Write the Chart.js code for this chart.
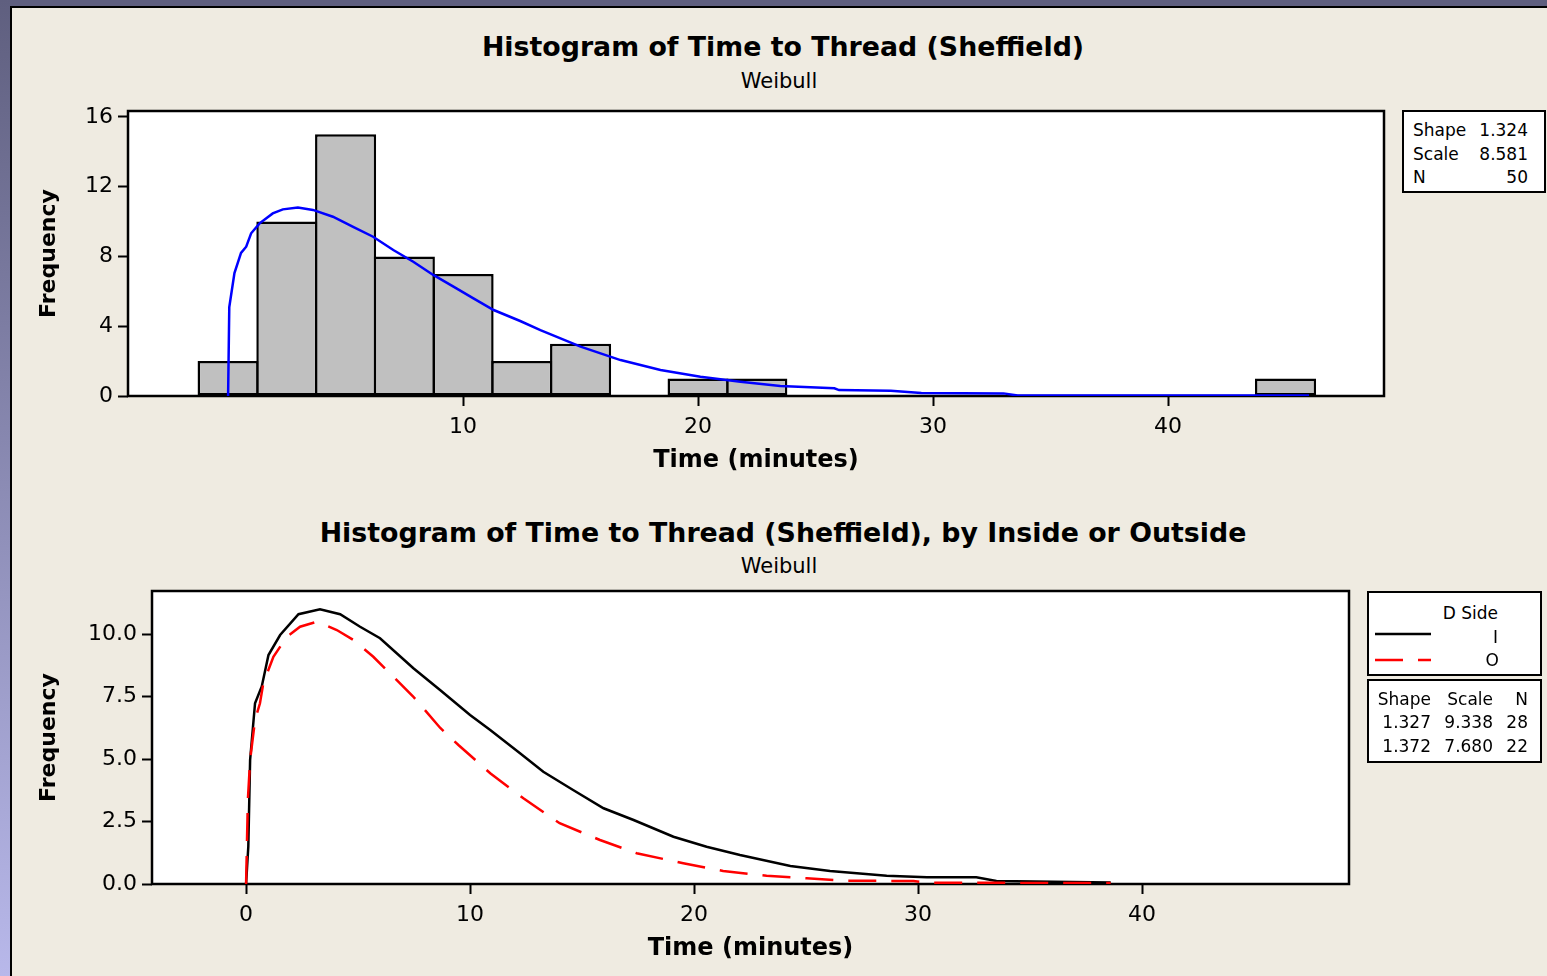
<!DOCTYPE html>
<html>
<head>
<meta charset="utf-8">
<title>Histogram of Time to Thread (Sheffield)</title>
<script src="https://cdn.jsdelivr.net/npm/chart.js@4.4.0/dist/chart.umd.min.js"></script>
<style>
  html, body { margin: 0; padding: 0; }
  body {
    width: 1547px; height: 976px; position: relative; overflow: hidden;
    background: #efebe1; color: #000;
    font-family: "DejaVu Sans", Verdana, sans-serif;
  }
  .frame-top { position: absolute; left: 0; top: 0; width: 1547px; height: 6px; background: #5f5f7f; }
  .frame-left { position: absolute; left: 0; top: 0; width: 10px; height: 976px; background: linear-gradient(#5f5f7f, #b8b8ea); }
  .edge-top { position: absolute; left: 10px; top: 6px; width: 1537px; height: 2px; background: #000; }
  .edge-left { position: absolute; left: 10px; top: 6px; width: 2px; height: 970px; background: #000; }
  canvas { position: absolute; left: 0; }
  .title { position: absolute; transform: translateX(-50%); white-space: nowrap; font-weight: bold; font-size: 26.8px; line-height: 30px; }
  .subtitle { position: absolute; transform: translateX(-50%); white-space: nowrap; font-size: 21px; line-height: 24px; }
  .box { position: absolute; background: #fff; border: 2px solid #000; box-sizing: border-box; }
  .lbl { position: absolute; white-space: nowrap; font-size: 17px; line-height: 20px; }
</style>
</head>
<body>
<div class="frame-top"></div>
<div class="frame-left"></div>
<div class="edge-top"></div>
<div class="edge-left"></div>

<div class="title" style="left:783px; top:32px;">Histogram of Time to Thread (Sheffield)</div>
<div class="subtitle" style="left:779px; top:69px;">Weibull</div>
<canvas id="histChart" width="1547" height="488" style="top:0;"></canvas>

<div class="title" style="left:783px; top:518px;">Histogram of Time to Thread (Sheffield), by Inside or Outside</div>
<div class="subtitle" style="left:779px; top:554px;">Weibull</div>
<canvas id="sideChart" width="1547" height="488" style="top:488px;"></canvas>

<div class="box" style="left:1402px; top:110px; width:144px; height:83px;"></div>
<div class="box" style="left:1367px; top:591px; width:175px; height:85px;"></div>
<div class="box" style="left:1367px; top:679px; width:175px; height:84px;"></div>
<svg style="position:absolute; left:1375px; top:624px;" width="60" height="46">
  <line x1="0" y1="10" x2="56" y2="10" stroke="#000" stroke-width="2.5"/>
  <line x1="0" y1="36" x2="56" y2="36" stroke="#f00" stroke-width="2.5" stroke-dasharray="28 15"/>
</svg>

<script>
// ---------- top panel: histogram, all 50 times ----------
const binMids   = [0, 2.5, 5, 7.5, 10, 12.5, 15, 17.5, 20, 22.5, 25, 27.5, 30, 32.5, 35, 37.5, 40, 42.5, 45];
const binCounts = [2, 10, 15, 8, 7, 2, 3, 0, 1, 1, 0, 0, 0, 0, 0, 0, 0, 0, 1];

// fitted Weibull curve
const fitX = [0, 0.05, 0.27, 0.55, 0.77, 0.98, 1.34, 1.9, 2.33, 2.97, 3.61, 4.46, 5.32, 6.17, 7.03, 7.88,
              8.73, 9.59, 10.44, 11.3, 12.43, 13.29, 15.0, 16.7, 18.4, 20.1, 21.8, 23.5, 25.8, 26.0, 28.2,
              29.5, 33.0, 33.6, 46.0];
const fitY = [0, 5.1, 7.05, 8.2, 8.56, 9.33, 9.9, 10.47, 10.7, 10.8, 10.67, 10.28, 9.7, 9.13, 8.37, 7.7,
              6.94, 6.27, 5.6, 4.93, 4.3, 3.78, 2.83, 2.06, 1.49, 1.1, 0.82, 0.57, 0.44, 0.34, 0.3,
              0.17, 0.15, 0.03, 0.03];

const xTicksTop = [10, 20, 30, 40];
const yTicksTop = [0, 4, 8, 12, 16];
const statLabels = ['Shape', 'Scale', 'N'];
const statValues = ['1.324', '8.581', '50'];

// ---------- bottom panel: by D Side ----------
const insideX = [0, 0.1, 0.18, 0.4, 0.7, 1.0, 1.52, 2.34, 3.3, 4.2, 5.09, 5.98, 7.47, 8.66, 10.0, 10.9,
                 12.23, 13.27, 14.6, 15.96, 17.3, 19.08, 20.56, 22.05, 24.3, 26.07, 28.6, 30.4, 32.6,
                 33.5, 38.6];
const insideY = [0, 1.5, 4.96, 7.23, 7.9, 9.16, 9.96, 10.79, 10.99, 10.79, 10.29, 9.83, 8.63, 7.76, 6.76, 6.16,
                 5.23, 4.49, 3.76, 3.03, 2.56, 1.89, 1.49, 1.16, 0.72, 0.52, 0.33, 0.27, 0.27,
                 0.12, 0.06];
const outsideX = [0, 0.08, 0.18, 0.4, 0.62, 0.77, 1.22, 1.82, 2.41, 3.16, 4.05, 4.79, 5.68, 6.58, 7.47, 8.66,
                  9.48, 10.15, 10.9, 12.38, 14.0, 15.8, 17.44, 19.52, 21.3, 23.24, 25.03, 26.8, 29.8,
                  30.5, 38.6];
const outsideY = [0, 3.36, 4.96, 6.56, 7.23, 8.03, 9.09, 9.89, 10.29, 10.49, 10.16, 9.76, 9.09, 8.29, 7.49, 6.25,
                  5.56, 5.03, 4.43, 3.43, 2.43, 1.76, 1.23, 0.83, 0.52, 0.33, 0.23, 0.13, 0.12,
                  0.05, 0.04];

const xTicksBottom = [0, 10, 20, 30, 40];
const yTicksBottom = [0, 2.5, 5, 7.5, 10];
const yTickLabelsBottom = ['0.0', '2.5', '5.0', '7.5', '10.0'];
const groups = ['I', 'O'];
const groupShape = ['1.327', '1.372'];
const groupScale = ['9.338', '7.680'];
const groupN = ['28', '22'];

const FONT = '"DejaVu Sans", Verdana, sans-serif';
Chart.defaults.font.family = FONT;
Chart.defaults.color = '#000';

const toPoints = (xs, ys) => xs.map((x, i) => ({ x: x, y: ys[i] }));

// white plot area with a black box round it
const plotFrame = {
  id: 'plotFrame',
  beforeDraw(chart) {
    const { ctx, chartArea: a } = chart;
    ctx.save();
    ctx.fillStyle = '#fff';
    ctx.fillRect(a.left, a.top, a.width, a.height);
    ctx.restore();
  },
  beforeDatasetsDraw(chart) {
    const { ctx, chartArea: a } = chart;
    ctx.save();
    ctx.strokeStyle = '#000';
    ctx.lineWidth = 2.5;
    ctx.strokeRect(a.left, a.top, a.width, a.height);
    ctx.restore();
  }
};

const tickGrid = {
  display: true, drawOnChartArea: false, drawTicks: true,
  tickLength: 10, tickWidth: 2, tickColor: '#000', offset: false
};

function xAxis(min, max, ticks) {
  return {
    type: 'linear', min: min, max: max, offset: false,
    afterFit: s => { s.height = 92; },
    afterBuildTicks: s => { s.ticks = ticks.map(v => ({ value: v })); },
    grid: tickGrid,
    border: { display: false },
    ticks: { autoSkip: false, maxRotation: 0, padding: 8, color: '#000', font: { size: 22 } },
    title: {
      display: true, text: 'Time (minutes)', color: '#000',
      font: { size: 24, weight: 'bold' }, padding: { top: 0, bottom: 13 }
    }
  };
}

function yAxis(max, width, ticks, labels) {
  return {
    type: 'linear', min: 0, max: max,
    afterFit: s => { s.width = width; },
    afterBuildTicks: s => { s.ticks = ticks.map(v => ({ value: v })); },
    grid: tickGrid,
    border: { display: false },
    ticks: { autoSkip: false, padding: 5, color: '#000', font: { size: 22 }, callback: (v, i) => labels[i] },
    title: {
      display: true, text: 'Frequency', color: '#000',
      font: { size: 22, weight: 'bold' }, padding: { top: 36, bottom: 0 }
    }
  };
}

const baseOptions = {
  responsive: false,
  animation: false,
  events: [],
  plugins: { legend: { display: false }, tooltip: { enabled: false }, title: { display: false } }
};

// top panel
new Chart(document.getElementById('histChart'), {
  type: 'bar',
  data: {
    datasets: [
      {
        type: 'line',
        data: toPoints(fitX, fitY),
        borderColor: '#0000ff',
        borderWidth: 2.5,
        pointRadius: 0,
        tension: 0,
        order: 1
      },
      {
        type: 'bar',
        data: toPoints(binMids, binCounts),
        backgroundColor: '#c0c0c0',
        borderColor: '#000',
        borderWidth: 2.5,
        borderSkipped: false,
        barPercentage: 1.04,
        categoryPercentage: 1,
        order: 2
      }
    ]
  },
  options: Object.assign({}, baseOptions, {
    layout: { padding: { left: 0, top: 111, right: 163, bottom: 0 } },
    scales: {
      x: xAxis(-4.26, 49.19, xTicksTop),
      y: yAxis(16.34, 128, yTicksTop, yTicksTop.map(String))
    }
  }),
  plugins: [plotFrame]
});

// bottom panel
new Chart(document.getElementById('sideChart'), {
  type: 'line',
  data: {
    datasets: [
      {
        label: groups[0],
        data: toPoints(insideX, insideY),
        borderColor: '#000',
        borderWidth: 2.5,
        pointRadius: 0,
        tension: 0,
        order: 2
      },
      {
        label: groups[1],
        data: toPoints(outsideX, outsideY),
        borderColor: '#ff0000',
        borderWidth: 2.5,
        borderDash: [28, 15],
        pointRadius: 0,
        tension: 0,
        order: 1
      }
    ]
  },
  options: Object.assign({}, baseOptions, {
    layout: { padding: { left: 0, top: 103, right: 198, bottom: 0 } },
    scales: {
      x: xAxis(-4.2, 49.24, xTicksBottom),
      y: yAxis(11.72, 152, yTicksBottom, yTickLabelsBottom)
    }
  }),
  plugins: [plotFrame]
});

// stat boxes
function placeText(text, x, cy, align) {
  const el = document.createElement('div');
  el.className = 'lbl';
  el.textContent = text;
  el.style.top = (cy - 10) + 'px';
  if (align === 'right') el.style.right = (1547 - x) + 'px';
  else el.style.left = x + 'px';
  document.body.appendChild(el);
}

const topRows = [130, 153.5, 177];
statLabels.forEach((lab, i) => {
  placeText(lab, 1413, topRows[i], 'left');
  placeText(statValues[i], 1528, topRows[i], 'right');
});

placeText('D Side', 1498, 613, 'right');
placeText(groups[0], 1498, 636.5, 'right');
placeText(groups[1], 1499, 660, 'right');

placeText('Shape', 1431, 699, 'right');
placeText('Scale', 1493, 699, 'right');
placeText('N', 1528, 699, 'right');
const groupRows = [722, 745.5];
groups.forEach((g, i) => {
  placeText(groupShape[i], 1431, groupRows[i], 'right');
  placeText(groupScale[i], 1493, groupRows[i], 'right');
  placeText(groupN[i], 1528, groupRows[i], 'right');
});
</script>
</body>
</html>
